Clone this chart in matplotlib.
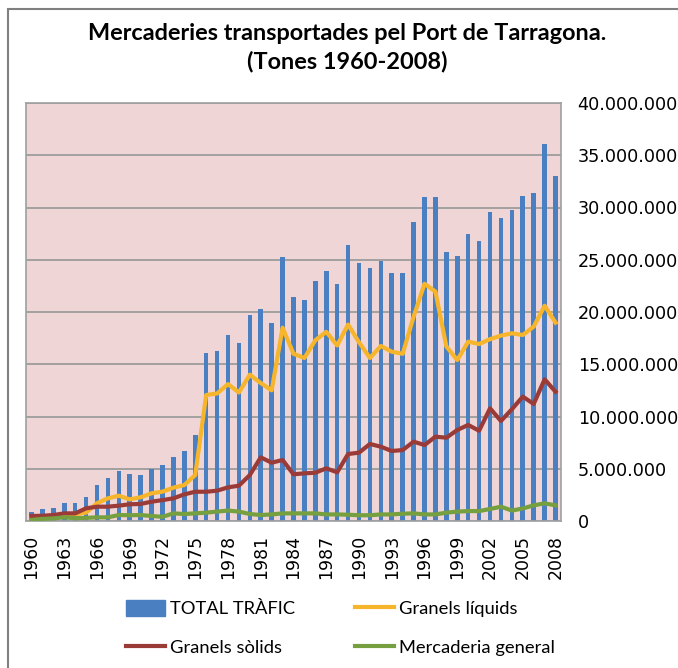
import numpy as np
import matplotlib.pyplot as plt
from matplotlib.ticker import FuncFormatter
from matplotlib.patches import Rectangle
from matplotlib.lines import Line2D

years = list(range(1960, 2009))

# tones, in millions
total_trafic = [0.89, 1.12, 1.21, 1.69, 1.69, 2.27, 3.44, 4.15, 4.82, 4.50,
                4.40, 4.98, 5.33, 6.09, 6.70, 8.23, 16.05, 16.27, 17.80, 17.00,
                19.71, 20.26, 18.92, 25.23, 21.45, 21.15, 23.00, 23.96, 22.68, 26.41,
                24.72, 24.24, 24.88, 23.76, 23.70, 28.64, 30.97, 30.97, 25.71, 25.36,
                27.46, 26.79, 29.60, 28.96, 29.76, 31.10, 31.36, 36.08, 33.04]
granels_liquids = [0.30, 0.40, 0.50, 0.60, 0.65, 0.80, 1.70, 2.17, 2.42, 2.07,
                   2.27, 2.65, 2.81, 3.19, 3.44, 4.40, 12.06, 12.20, 13.10, 12.30,
                   14.00, 13.20, 12.50, 18.50, 16.00, 15.60, 17.30, 18.10, 16.80, 18.80,
                   17.10, 15.60, 16.75, 16.20, 16.00, 19.55, 22.70, 21.95, 16.70, 15.40,
                   17.16, 16.94, 17.40, 17.74, 17.96, 17.80, 18.60, 20.60, 18.98]
granels_solids = [0.48, 0.50, 0.57, 0.73, 0.73, 1.21, 1.37, 1.37, 1.47, 1.60,
                  1.63, 1.85, 2.00, 2.17, 2.55, 2.80, 2.80, 2.90, 3.22, 3.38,
                  4.40, 6.09, 5.58, 5.84, 4.47, 4.56, 4.62, 5.04, 4.66, 6.41,
                  6.54, 7.37, 7.11, 6.70, 6.79, 7.59, 7.27, 8.07, 7.97, 8.71,
                  9.19, 8.64, 10.78, 9.57, 10.69, 11.90, 11.20, 13.56, 12.37]
mercaderia_general = [0.10, 0.20, 0.25, 0.35, 0.27, 0.30, 0.35, 0.35, 0.57, 0.55,
                      0.57, 0.48, 0.40, 0.73, 0.67, 0.73, 0.80, 0.90, 1.00, 0.90,
                      0.67, 0.57, 0.63, 0.73, 0.73, 0.73, 0.73, 0.63, 0.63, 0.60,
                      0.55, 0.55, 0.63, 0.63, 0.70, 0.73, 0.63, 0.63, 0.80, 0.90,
                      0.95, 0.95, 1.15, 1.37, 1.00, 1.20, 1.50, 1.69, 1.50]

y_ticks = [0, 5e6, 10e6, 15e6, 20e6, 25e6, 30e6, 35e6, 40e6]
label_years = list(range(1960, 2009, 3))

fig = plt.figure(figsize=(6.78, 6.68), dpi=100)
ax = fig.add_axes([26/678, 1-521/668, 535/678, 418/668])

x = np.arange(len(years))
ax.set_facecolor('#EFD5D5')
ax.bar(x, np.array(total_trafic)*1e6, width=0.42, color='#4A7FC1', zorder=2)
ax.plot(x, np.array(granels_liquids)*1e6, color='#F7B52C', lw=3, zorder=3)
ax.plot(x, np.array(granels_solids)*1e6, color='#9B3B38', lw=3, zorder=4)
ax.plot(x, np.array(mercaderia_general)*1e6, color='#76A040', lw=3, zorder=5)

ax.set_xlim(-0.5, len(years)-0.5)
ax.set_ylim(0, 40e6)
ax.yaxis.tick_right()
ax.set_yticks(y_ticks)
ax.yaxis.set_major_formatter(FuncFormatter(lambda v, p: f'{int(v):,}'.replace(',', '.')))
ax.tick_params(axis='y', length=0, pad=12, labelsize=12.7)
ax.set_xticks([years.index(y) for y in label_years])
ax.set_xticklabels([str(y) for y in label_years], rotation=90, fontsize=12.5)
ax.tick_params(axis='x', length=0, pad=10)
ax.grid(axis='y', color='#9C9C9C', lw=1.3, zorder=1)
for s in ax.spines.values():
    s.set_color('#A0A0A0')
    s.set_linewidth(1.2)

fig.text(347/678, 1-33/668, 'Mercaderies transportades pel Port de Tarragona.',
         ha='center', va='center', fontsize=16.9, fontweight='bold', family='Lato')
fig.text(347/678, 1-62/668, '(Tones 1960-2008)',
         ha='center', va='center', fontsize=16.9, fontweight='bold', family='Lato')

# outer chart frame
fig.patches.append(Rectangle((8/678, -0.1), 1.1, 1-9/668+0.1, transform=fig.transFigure,
                             fill=False, edgecolor='#808080', lw=1.5))

# legend goes column by column
handles = [Rectangle((0, 0), 1, 1, color='#4A7FC1'),
           Line2D([], [], color='#9B3B38', lw=3),
           Line2D([], [], color='#F7B52C', lw=3),
           Line2D([], [], color='#76A040', lw=3)]
labels = ['TOTAL TRÀFIC', 'Granels sòlids', 'Granels líquids', 'Mercaderia general']
fig.legend(handles, labels, ncol=2, loc='center left', bbox_to_anchor=(126/678, 1-628/668),
           frameon=False, prop={'family': 'Lato', 'size': 13.2}, handlelength=2.15,
           handletextpad=0.25, columnspacing=3.25, labelspacing=1.15, handleheight=1.0,
           borderpad=0, borderaxespad=0)

fig.savefig('out.png', dpi=100)
